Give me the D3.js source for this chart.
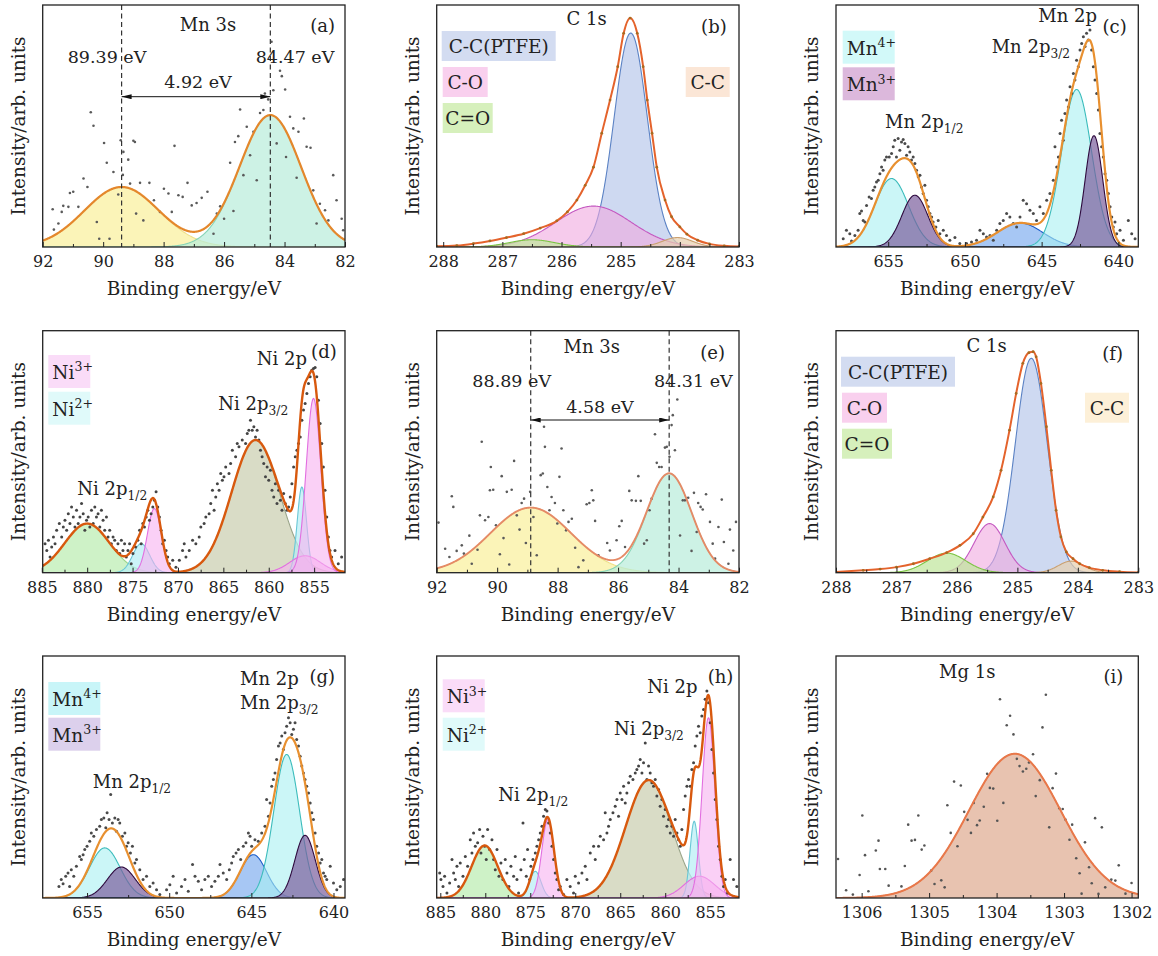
<!DOCTYPE html>
<html lang="en">
<head>
<meta charset="utf-8">
<title>XPS spectra</title>
<script src="https://cdnjs.cloudflare.com/ajax/libs/d3/7.8.5/d3.min.js"></script>
<style>
  body { margin: 0; background: #fff; }
  svg text { font-family: 'DejaVu Serif', 'Liberation Serif', serif; fill: #222; }
</style>
</head>
<body>
<svg id="canvas" width="1158" height="956"></svg>
<script>
// ---------- data ----------
// fitted peaks: [centre (eV), height (% of panel height), FWHM (eV)]
const mn3sPeaksA = [[89.39, 24.8, 2.9], [84.47, 54.5, 2.4]];
const mn3sPeaksE = [[88.89, 26.9, 3.15], [84.31, 41.0, 1.75]];
const c1sPeaksB = [[284.83, 88.4, 0.66], [285.46, 16.9, 1.5], [286.5, 3.0, 0.9], [284.04, 3.9, 0.6]];
const c1sPeaksF = [[284.77, 88.6, 0.62], [285.46, 20.3, 0.6], [286.17, 8.1, 0.75], [284.11, 4.8, 0.5]];
const mn2pPeaksC = [[654.78, 28.3, 2.6], [653.26, 21.4, 2.0], [646.41, 9.9, 3.5], [642.72, 65.1, 2.3], [641.59, 46.0, 1.35]];
const mn2pPeaksG = [[653.92, 20.7, 2.2], [652.91, 12.8, 2.0], [644.88, 17.9, 1.9], [642.85, 59.3, 1.85], [641.73, 25.9, 1.46]];
const ni2pPeaksD = [[880.0, 20.3, 5.8], [861.46, 54.8, 6.2], [874.05, 12.0, 2.2], [872.6, 26.5, 1.8], [856.35, 35.4, 1.2], [856.0, 7.0, 4.0], [855.07, 72.0, 1.9]];
const ni2pPeaksH = [[880.07, 21.7, 3.4], [861.85, 48.7, 6.0], [874.44, 11.0, 1.5], [873.04, 32.4, 1.6], [856.78, 31.7, 1.1], [856.2, 9.0, 4.0], [855.19, 74.5, 1.67]];
const mg1sPeaksI = [[1303.73, 59.6, 1.6]];

// C 1s envelopes (measured points on the fitted sum): [eV, %]
const c1sEnvB = [[288.11,0.3],[287.77,0.6],[287.49,1.4],[287.21,2.5],[286.93,3.9],[286.64,5.5],[286.36,7.8],[286.08,10.8],[285.9,14.5],[285.74,19.4],[285.6,25.5],[285.46,33.0],[285.32,47.0],[285.18,60.7],[285.05,74.5],[284.95,88.3],[284.84,94.6],[284.72,88.3],[284.62,74.5],[284.55,60.7],[284.47,47.0],[284.39,33.0],[284.25,19.4],[284.14,12.5],[284.0,8.3],[283.88,5.3],[283.7,2.8],[283.5,1.3],[283.25,0.5],[283.0,0.2]];
const c1sEnvF = [[288.0,0.3],[287.55,1.0],[287.27,1.5],[287.0,2.3],[286.72,3.7],[286.45,5.8],[286.17,8.3],[285.95,11.3],[285.73,16.1],[285.57,23.0],[285.4,31.3],[285.27,42.3],[285.13,58.9],[285.02,74.1],[284.91,86.5],[284.81,90.9],[284.74,91.3],[284.69,89.2],[284.61,78.2],[284.52,60.3],[284.44,42.3],[284.36,25.8],[284.28,14.8],[284.19,8.6],[284.08,5.8],[283.97,3.7],[283.81,2.1],[283.59,1.0],[283.31,0.4],[283.0,0.1]];

// raw counts: [eV, %]
const mn3sDotsA = [[91.67,15.6],[91.63,7.2],[91.48,9.7],[91.37,14.5],[91.32,17.0],[91.15,16.6],[91.10,22.3],[90.99,22.8],[90.82,16.6],[90.65,28.3],[90.52,24.8],[90.41,55.7],[90.32,50.1],[90.21,10.3],[90.13,3.4],[89.97,43.0],[89.88,34.8],[89.79,3.4],[89.66,31.0],[89.50,21.7],[89.42,44.1],[89.35,29.8],[89.33,39.3],[89.17,36.1],[89.11,26.2],[89.00,43.9],[88.95,43.4],[88.91,13.8],[88.78,26.5],[88.67,11.0],[88.47,26.5],[88.32,19.3],[88.12,14.5],[87.99,24.1],[87.84,22.1],[87.73,14.5],[87.64,41.8],[87.51,21.4],[87.37,20.7],[87.21,26.5],[87.07,17.2],[86.91,18.2],[86.74,20.3],[86.55,22.8],[86.35,5.5],[86.24,13.8],[86.13,16.8],[86.00,11.7],[85.80,34.8],[85.69,14.9],[85.64,43.4],[85.53,45.8],[85.47,56.8],[85.36,29.7],[85.25,49.7],[85.14,37.9],[85.03,47.6],[84.92,27.6],[84.81,55.4],[84.70,56.6],[84.65,63.4],[84.54,61.0],[84.43,84.8],[84.37,64.8],[84.26,42.8],[84.15,72.8],[84.09,70.6],[83.98,65.1],[83.95,37.2],[83.82,53.8],[83.71,49.0],[83.60,28.6],[83.54,47.6],[83.36,53.1],[83.27,41.4],[83.14,41.0],[83.05,23.4],[82.94,9.7],[82.83,17.9],[82.66,15.2],[82.55,11.0],[82.39,29.7],[82.28,19.3],[82.11,11.7],[82.06,6.9]];
const mn3sDotsE = [[91.94,20.7],[91.72,9.9],[91.58,6.5],[91.50,31.6],[91.45,27.2],[91.34,9.0],[91.17,11.3],[91.10,7.9],[90.92,15.3],[90.84,3.7],[90.65,9.5],[90.57,23.7],[90.51,54.1],[90.40,21.7],[90.29,23.0],[90.24,34.1],[90.21,43.7],[90.13,34.3],[90.04,19.6],[89.91,7.6],[89.85,39.9],[89.79,14.3],[89.68,33.4],[89.60,3.4],[89.52,34.3],[89.44,46.2],[89.35,23.7],[89.26,17.8],[89.19,28.8],[89.11,30.6],[89.05,12.3],[88.91,33.4],[88.80,23.0],[88.69,7.2],[88.56,40.3],[88.49,41.0],[88.45,60.3],[88.42,52.0],[88.34,35.4],[88.27,25.8],[88.20,31.3],[88.09,28.8],[88.01,20.3],[87.94,39.6],[87.87,51.3],[87.81,25.8],[87.72,17.5],[87.64,21.0],[87.53,22.3],[87.42,10.3],[87.31,2.3],[87.15,5.1],[87.04,28.3],[86.95,28.8],[86.87,34.1],[86.82,29.9],[86.76,21.4],[86.65,7.2],[86.36,12.3],[86.27,9.2],[86.05,13.4],[85.96,19.2],[85.88,21.4],[85.77,10.6],[85.63,33.8],[85.55,29.9],[85.41,29.7],[85.33,39.9],[85.25,29.7],[85.14,12.0],[85.05,13.4],[84.96,25.8],[84.89,30.6],[84.78,57.2],[84.72,45.4],[84.64,43.7],[84.56,43.7],[84.45,51.7],[84.39,52.0],[84.30,47.9],[84.23,61.0],[84.19,65.1],[84.12,50.6],[84.04,71.6],[83.95,15.4],[83.86,29.9],[83.79,29.9],[83.68,31.0],[83.57,9.0],[83.49,33.0],[83.40,16.8],[83.35,28.8],[83.27,27.2],[83.20,26.1],[83.09,32.4],[82.96,21.0],[82.87,12.0],[82.79,5.8],[82.68,18.9],[82.57,30.2],[82.50,12.7],[82.35,3.7],[82.30,17.8],[82.19,9.2],[82.10,21.0]];
const mn2pDotsC = [[657.93,3.4],[657.72,6.9],[657.50,5.5],[657.39,2.5],[657.17,4.8],[656.96,6.9],[656.85,13.8],[656.74,14.9],[656.63,11.0],[656.52,10.3],[656.41,17.2],[656.24,20.7],[656.09,20.0],[655.98,23.4],[655.87,24.8],[655.76,26.9],[655.65,27.6],[655.54,30.3],[655.43,33.1],[655.33,31.7],[655.22,35.9],[655.11,37.2],[654.93,37.2],[654.78,38.6],[654.67,41.4],[654.57,44.1],[654.46,37.2],[654.35,44.8],[654.24,40.0],[654.13,43.4],[654.02,44.4],[653.91,42.8],[653.80,37.9],[653.70,41.4],[653.59,39.3],[653.48,35.9],[653.37,37.2],[653.26,34.5],[653.15,31.7],[653.04,29.0],[652.93,29.7],[652.83,24.8],[652.72,22.1],[652.61,25.5],[652.50,19.3],[652.39,16.6],[652.28,13.8],[652.17,12.4],[652.07,10.3],[651.89,8.3],[651.74,11.0],[651.63,5.5],[651.41,6.9],[651.20,4.8],[650.98,2.8],[650.65,3.9],[650.33,1.4],[649.89,1.4],[649.57,2.1],[649.24,2.8],[649.02,6.9],[648.80,5.5],[648.59,4.1],[648.37,4.8],[648.15,2.8],[647.93,6.9],[647.72,9.7],[647.50,11.0],[647.28,13.8],[647.07,12.4],[646.85,9.7],[646.63,8.3],[646.41,12.4],[646.20,19.3],[645.98,17.9],[645.76,15.2],[645.54,13.8],[645.33,11.0],[645.11,16.6],[644.89,13.8],[644.67,19.3],[644.46,22.1],[644.24,27.6],[644.13,41.4],[644.02,33.1],[643.91,37.2],[643.80,46.9],[643.70,52.4],[643.59,44.1],[643.48,55.2],[643.37,60.7],[643.26,57.9],[643.15,66.2],[643.04,63.4],[642.93,71.7],[642.83,69.0],[642.72,77.2],[642.61,74.5],[642.50,81.4],[642.39,84.1],[642.28,86.9],[642.17,82.8],[642.07,88.3],[641.96,85.5],[641.85,89.7],[641.74,81.4],[641.63,74.5],[641.52,69.0],[641.41,63.4],[641.30,56.6],[641.20,46.9],[641.09,41.4],[640.98,37.2],[640.87,30.3],[640.76,27.6],[640.65,22.1],[640.54,16.6],[640.43,12.4],[640.33,8.3],[640.22,10.3],[640.11,5.5],[639.89,6.9],[639.67,2.8],[639.35,11.0],[639.13,5.5],[638.91,3.4]];
const mn2pDotsG = [[656.71,4.8],[656.57,7.6],[656.46,5.9],[656.30,9.0],[656.16,10.3],[656.06,4.8],[655.96,11.7],[655.81,9.0],[655.65,13.1],[655.45,17.2],[655.35,15.9],[655.24,17.9],[655.14,20.0],[655.00,21.4],[654.84,23.4],[654.74,26.9],[654.59,25.5],[654.43,28.3],[654.23,29.7],[654.13,32.4],[653.98,33.1],[653.86,29.0],[653.78,35.2],[653.66,32.4],[653.56,42.8],[653.46,31.0],[653.31,33.1],[653.21,27.6],[653.11,32.4],[653.01,31.0],[652.85,25.5],[652.70,26.9],[652.60,21.4],[652.50,22.8],[652.36,18.6],[652.24,21.4],[652.09,14.5],[651.99,15.9],[651.79,11.7],[651.59,7.6],[651.38,9.0],[651.18,4.8],[650.98,6.2],[650.77,3.4],[650.57,1.4],[650.16,3.4],[649.96,5.5],[649.76,9.0],[649.55,2.1],[649.25,4.8],[649.04,7.6],[648.84,2.8],[648.58,13.8],[648.43,9.0],[648.23,6.9],[648.03,3.4],[647.83,7.6],[647.62,9.0],[647.42,4.8],[647.22,6.9],[647.01,9.0],[646.91,13.8],[646.71,10.3],[646.50,7.6],[646.34,11.7],[646.20,14.5],[646.10,17.2],[645.93,18.6],[645.79,20.0],[645.65,15.9],[645.49,21.4],[645.33,22.8],[645.18,26.9],[645.08,25.5],[644.98,21.4],[644.78,24.1],[644.58,23.4],[644.37,26.9],[644.17,29.7],[644.07,40.7],[643.96,33.8],[643.86,39.3],[643.76,46.2],[643.66,49.0],[643.56,51.7],[643.46,57.2],[643.35,62.8],[643.25,64.1],[643.15,66.9],[643.05,61.4],[642.95,68.3],[642.85,71.0],[642.74,74.5],[642.64,72.4],[642.54,67.6],[642.44,69.7],[642.34,72.4],[642.24,65.5],[642.13,62.8],[642.03,58.6],[641.93,54.5],[641.83,51.7],[641.73,49.0],[641.63,46.2],[641.52,43.4],[641.42,39.3],[641.32,35.2],[641.22,32.4],[641.12,26.9],[641.02,21.4],[640.91,18.6],[640.81,14.5],[640.71,15.9],[640.61,10.3],[640.51,9.0],[640.41,7.6],[640.20,13.1],[640.00,6.2],[639.80,3.4],[639.59,4.8],[639.39,7.6]];
const ni2pDotsD = [[884.64,12.0],[884.45,9.2],[884.27,13.4],[884.09,6.5],[883.91,10.6],[883.72,14.8],[883.54,12.0],[883.36,17.5],[883.07,20.3],[882.81,14.8],[882.63,18.9],[882.45,21.7],[882.26,17.5],[882.08,24.4],[881.90,20.3],[881.72,27.2],[881.53,23.0],[881.35,18.9],[881.17,25.8],[880.99,20.3],[880.80,23.0],[880.62,28.6],[880.44,24.4],[880.26,17.5],[880.07,21.7],[879.89,23.0],[879.71,18.9],[879.53,25.8],[879.34,20.3],[879.16,27.2],[878.98,23.0],[878.80,24.4],[878.61,18.9],[878.43,25.8],[878.25,21.7],[878.07,17.5],[877.88,23.0],[877.70,14.8],[877.52,17.5],[877.34,12.0],[877.15,14.8],[876.97,13.4],[876.79,9.2],[876.61,12.0],[876.42,7.9],[876.24,13.4],[876.06,9.2],[875.88,12.0],[875.69,6.5],[875.51,9.2],[875.33,12.0],[875.15,3.7],[874.96,7.9],[874.67,10.6],[874.42,13.4],[874.23,17.5],[874.05,12.0],[873.87,20.3],[873.69,18.9],[873.50,23.0],[873.32,25.8],[873.14,21.7],[872.96,24.4],[872.77,27.2],[872.59,29.9],[872.41,33.4],[872.23,27.2],[872.04,23.0],[871.86,17.5],[871.68,12.0],[871.50,13.4],[871.31,9.2],[871.13,6.5],[870.95,3.7],[870.58,5.1],[870.22,2.3],[869.85,5.1],[869.49,9.2],[869.31,12.0],[869.12,6.5],[868.76,9.2],[868.39,13.4],[868.03,12.0],[867.66,14.8],[867.48,18.9],[867.12,20.3],[866.93,23.0],[866.57,24.4],[866.39,28.6],[866.20,34.1],[866.02,25.8],[865.84,31.3],[865.66,36.8],[865.47,34.1],[865.29,41.0],[865.11,38.2],[864.93,39.6],[864.74,43.7],[864.38,41.0],[864.20,45.1],[864.01,50.6],[863.65,47.9],[863.47,53.4],[863.28,52.0],[862.92,54.8],[862.55,53.4],[862.37,57.5],[862.19,58.9],[862.01,63.0],[861.82,58.9],[861.64,60.3],[861.46,56.1],[861.28,58.9],[861.09,54.8],[860.91,50.6],[860.73,47.9],[860.55,45.1],[860.36,39.6],[860.18,43.7],[860.00,38.2],[859.82,42.3],[859.64,34.1],[859.45,31.3],[859.27,36.8],[859.09,28.6],[858.91,34.1],[858.72,29.9],[858.54,25.8],[858.36,32.7],[858.18,28.6],[857.99,25.8],[857.81,27.2],[857.63,31.3],[857.45,36.8],[857.26,43.7],[857.08,47.9],[856.90,50.6],[856.72,53.4],[856.53,56.1],[856.35,63.0],[856.17,67.2],[855.99,69.9],[855.80,74.1],[855.62,78.2],[855.44,81.0],[855.26,83.7],[855.07,84.4],[854.89,84.8],[854.71,81.0],[854.53,71.3],[854.34,61.7],[854.16,53.4],[853.98,43.7],[853.80,34.1],[853.61,23.0],[853.43,14.8],[853.25,9.2],[853.07,6.5],[852.70,9.2],[852.34,3.7],[851.97,6.5]];
const ni2pDotsH = [[885.07,10.3],[884.93,7.6],[884.70,4.8],[884.52,9.0],[884.26,2.1],[883.96,6.2],[883.70,15.9],[883.52,10.3],[883.33,7.6],[883.15,13.1],[882.96,4.8],[882.78,14.5],[882.48,9.0],[882.22,17.2],[881.96,13.1],[881.67,24.1],[881.48,18.6],[881.30,26.9],[881.11,21.4],[880.85,22.8],[880.63,28.3],[880.48,18.6],[880.26,25.5],[880.07,21.4],[879.89,15.9],[879.74,28.3],[879.52,20.0],[879.26,24.1],[879.07,15.9],[878.89,11.7],[878.70,20.0],[878.48,9.0],[878.26,14.5],[878.04,7.6],[877.78,15.9],[877.59,10.3],[877.37,4.8],[877.15,13.1],[876.85,9.0],[876.67,17.2],[876.48,7.6],[876.30,2.1],[876.04,11.7],[875.81,31.0],[875.67,15.9],[875.44,9.0],[875.30,20.0],[875.07,7.6],[874.93,13.1],[874.70,15.9],[874.44,18.6],[874.26,21.4],[874.07,24.1],[873.89,26.9],[873.70,29.7],[873.52,33.8],[873.33,36.6],[873.15,35.9],[872.96,31.0],[872.78,26.9],[872.59,21.4],[872.41,15.9],[872.22,10.3],[872.04,7.6],[871.85,3.4],[871.67,4.8],[871.30,1.4],[870.93,7.6],[870.56,4.8],[870.19,2.1],[870.00,9.0],[869.63,6.2],[869.26,10.3],[868.89,13.1],[868.70,7.6],[868.33,18.6],[867.96,21.4],[867.78,15.9],[867.41,21.4],[867.22,25.5],[866.85,24.1],[866.67,35.2],[866.48,26.9],[866.30,29.7],[866.11,32.4],[865.81,35.2],[865.56,37.9],[865.37,40.7],[865.19,33.8],[865.00,43.4],[864.81,40.7],[864.63,46.2],[864.44,39.3],[864.26,43.4],[864.07,47.6],[863.89,50.3],[863.59,49.0],[863.33,51.7],[863.15,53.1],[862.96,54.5],[862.78,57.2],[862.59,51.7],[862.41,55.9],[862.22,64.1],[862.04,49.0],[861.85,54.5],[861.67,51.7],[861.48,47.6],[861.30,46.2],[861.11,49.0],[860.93,42.1],[860.74,44.8],[860.56,37.9],[860.37,40.7],[860.19,33.8],[860.00,36.6],[859.81,29.7],[859.63,32.4],[859.44,26.9],[859.26,29.7],[859.07,25.5],[858.89,32.4],[858.70,26.9],[858.52,24.1],[858.33,21.4],[858.15,28.3],[857.96,36.6],[857.78,42.1],[857.59,46.2],[857.41,49.0],[857.22,46.2],[857.04,53.1],[856.85,55.9],[856.67,62.8],[856.48,66.9],[856.30,71.0],[856.11,68.3],[855.93,75.2],[855.74,77.9],[855.56,82.1],[855.37,85.5],[855.19,80.7],[855.00,72.4],[854.81,61.4],[854.63,51.7],[854.44,40.7],[854.26,32.4],[854.07,21.4],[853.89,15.9],[853.70,9.0],[853.52,4.8],[853.33,7.6],[853.07,2.1],[852.78,15.9],[852.41,7.6],[852.04,4.8]];
const mg1sDotsI = [[1306.35,16.1],[1306.23,3.2],[1306.13,1.4],[1306.03,9.5],[1305.99,34.1],[1305.95,17.7],[1305.90,2.8],[1305.79,19.6],[1305.75,23.7],[1305.73,12.0],[1305.65,12.0],[1305.60,5.1],[1305.41,4.8],[1305.36,13.2],[1305.31,30.3],[1305.26,23.7],[1305.21,24.0],[1305.16,34.1],[1305.11,20.0],[1305.07,21.7],[1304.97,11.3],[1304.92,5.8],[1304.82,7.3],[1304.77,4.4],[1304.73,38.3],[1304.68,26.9],[1304.63,48.1],[1304.58,21.4],[1304.53,46.5],[1304.48,35.6],[1304.43,32.3],[1304.38,26.9],[1304.34,39.3],[1304.29,30.1],[1304.25,32.0],[1304.19,37.7],[1304.14,51.3],[1304.10,45.5],[1304.05,45.2],[1303.99,31.9],[1303.95,82.1],[1303.90,39.3],[1303.85,71.4],[1303.80,75.3],[1303.75,67.6],[1303.70,57.5],[1303.66,54.5],[1303.61,52.3],[1303.56,53.4],[1303.52,56.0],[1303.46,59.4],[1303.42,42.1],[1303.36,48.7],[1303.32,70.5],[1303.27,84.0],[1303.22,29.2],[1303.17,45.4],[1303.12,51.4],[1303.07,37.1],[1303.02,36.8],[1302.98,32.4],[1302.92,24.1],[1302.88,30.3],[1302.82,16.4],[1302.77,10.2],[1302.74,1.8],[1302.69,23.0],[1302.63,12.7],[1302.59,6.1],[1302.54,33.0],[1302.49,1.7],[1302.44,29.2],[1302.39,4.4],[1302.30,7.6],[1302.24,7.2],[1302.19,13.5],[1302.09,1.8],[1302.00,6.2]];

// axis ranges and tick labels
const domainMn3s = [92, 82], ticksMn3s = [92, 90, 88, 86, 84, 82];
const domainC1sB = [288.11, 283], domainC1sF = [288, 283], ticksC1s = [288, 287, 286, 285, 284, 283];
const domainMn2pC = [658.4, 638.7], domainMn2pG = [657.7, 639.3], ticksMn2p = [655, 650, 645, 640];
const domainNi2pD = [884.9, 851.6], domainNi2pH = [885.4, 851.8], ticksNi2p = [885, 880, 875, 870, 865, 860, 855];
const domainMg1s = [1306.38, 1301.9], ticksMg1s = [1306, 1305, 1304, 1303, 1302];

// labels
const c1sLegend = ["C-C(PTFE)", "C-O", "C=O", "C-C"];
const mnLegend = [["Mn", "4+"], ["Mn", "3+"]];
const niLegend = [["Ni", "3+"], ["Ni", "2+"]];
const xTitle = "Binding energy/eV", yTitle = "Intensity/arb. units";

// ---------- styles ----------
const stMn3s = [{ fill: "#faf0a0", op: 0.75, stroke: "#eee08a" }, { fill: "#b8ecda", op: 0.7, stroke: "#86d4b6" }];
const stC1s = [{ fill: "#c2cfee", op: 0.8, stroke: "#5b82c4" }, { fill: "#f0a8e0", op: 0.6, stroke: "#c458c0" },
               { fill: "#bfe69a", op: 0.7, stroke: "#7cc444" }, { fill: "#e7cfae", op: 0.7, stroke: "#caa070" }];
const cyan = { fill: "#a8f0f2", op: 0.6, stroke: "#3cbcbc" };
const purple = { fill: "#7b5e9c", op: 0.7, stroke: "#2e0a3e" };
const blueSat = { fill: "#3c82e6", op: 0.45, stroke: "#1c5cc8" };
const stMn2p = [cyan, purple, blueSat, cyan, purple];
const niGreen = { fill: "#bdeeb4", op: 0.75, stroke: "#9bd58c" };
const niOlive = { fill: "#cfd3b8", op: 0.8, stroke: "#9aa58a" };
const niCyan = { fill: "#b6eef5", op: 0.7, stroke: "#69c7d6" };
const niPink = { fill: "#f6b0f0", op: 0.6, stroke: "#e26ee0" };
const stNi2p = [niGreen, niOlive, niCyan, niPink, niCyan, niPink, niPink];
const stMg1s = [{ fill: "#e2b49c", op: 0.8, stroke: "#e8784a" }];

// ---------- layout ----------
const colX = [42.7, 436.7, 836], rowY = [5, 330.7, 656];
const plotW = 302.3, plotH = 242;

const svg = d3.select("#canvas");
const defs = svg.append("defs");
defs.append("marker").attr("id", "arrow")
  .attr("viewBox", "0 0 10 10").attr("refX", 10).attr("refY", 5)
  .attr("markerWidth", 10).attr("markerHeight", 5).attr("markerUnits", "userSpaceOnUse")
  .attr("preserveAspectRatio", "none").attr("orient", "auto-start-reverse")
  .append("path").attr("d", "M0,0 L10,5 L0,10 z").attr("fill", "#111");

const gauss = (pk, e) => pk[1] * Math.exp(-4 * Math.LN2 * ((e - pk[0]) / pk[2]) ** 2);

// text with sub/superscripts: parts = [[text, ""|"sup"|"sub"]]
function rich(g, x, y, parts, size, anchor) {
  const t = g.append("text").attr("x", x).attr("y", y).attr("font-size", size)
    .attr("text-anchor", anchor || "start");
  let shift = 0;
  parts.forEach(([s, k]) => {
    const target = k === "sup" ? -0.42 * size : k === "sub" ? 0.28 * size : 0;
    const ts = t.append("tspan").text(s).attr("dy", target - shift);
    if (k) ts.attr("font-size", size * 0.68);
    shift = target;
  });
  return t;
}

function drawPanel(p) {
  const g = svg.append("g").attr("transform", `translate(${colX[p.col]},${rowY[p.row]})`);
  const x = d3.scaleLinear().domain(p.domain).range([0, plotW]);
  const y = d3.scaleLinear().domain([0, 100]).range([plotH, 0]);

  defs.append("clipPath").attr("id", "clip-" + p.id)
    .append("rect").attr("width", plotW).attr("height", plotH);
  const body = g.append("g").attr("clip-path", `url(#clip-${p.id})`);

  // evaluation grid for the fitted curves
  const n = 700;
  const grid = d3.range(n + 1).map(i => p.domain[0] + (p.domain[1] - p.domain[0]) * i / n);
  const area = d3.area().x(d => x(d[0])).y0(y(0)).y1(d => y(d[1]));
  const line = d3.line().x(d => x(d[0])).y(d => y(d[1]));

  p.peaks.forEach((pk, i) => {
    const pts = grid.map(e => [e, gauss(pk, e)]);
    const st = p.styles[i];
    body.append("path").datum(pts).attr("d", area)
      .attr("fill", st.fill).attr("fill-opacity", st.op);
    body.append("path").datum(pts).attr("d", line)
      .attr("fill", "none").attr("stroke", st.stroke).attr("stroke-width", 1.1);
  });

  if (p.dots) {
    body.selectAll("circle.dot").data(p.dots).join("circle").attr("class", "dot")
      .attr("cx", d => x(d[0])).attr("cy", d => y(d[1]))
      .attr("r", p.dotR).attr("fill", p.dotColor);
  }

  // envelope
  let env;
  if (p.env) env = p.env;
  else env = grid.map(e => [e, d3.sum(p.peaks, pk => gauss(pk, e))]);
  body.append("path").datum(env)
    .attr("d", p.env ? line.curve(d3.curveMonotoneX) : line)
    .attr("fill", "none").attr("stroke", p.envColor).attr("stroke-width", p.envWidth);
  if (p.env) {
    body.selectAll("circle.edot").data(p.env).join("circle").attr("class", "edot")
      .attr("cx", d => x(d[0])).attr("cy", d => y(d[1])).attr("r", 1.4).attr("fill", "#a86a20");
  }

  // axes (ticks inside)
  const ax = g.append("g").attr("transform", `translate(0,${plotH})`).style("color", "#222")
    .call(d3.axisBottom(x).tickValues(p.ticks).tickSizeInner(-5).tickSizeOuter(0).tickPadding(9)
      .tickFormat(d3.format("d")));
  ax.select(".domain").remove();
  ax.selectAll("text").attr("font-size", 16).style("font-family", "'DejaVu Serif', serif");
  const minor = [];
  for (let i = 0; i < p.ticks.length - 1; i++) minor.push((p.ticks[i] + p.ticks[i + 1]) / 2);
  const mx = g.append("g").attr("transform", `translate(0,${plotH})`).style("color", "#222")
    .call(d3.axisBottom(x).tickValues(minor).tickSizeInner(-3).tickSizeOuter(0).tickFormat(""));
  mx.select(".domain").remove();

  g.append("text").attr("x", plotW / 2).attr("y", plotH + 48).attr("text-anchor", "middle")
    .attr("font-size", 18.5).text(xTitle);
  g.append("text").attr("transform", `translate(-18,${plotH / 2}) rotate(-90)`)
    .attr("text-anchor", "middle").attr("font-size", 18.5).text(yTitle);

  p.annotate(g, x, y);

  g.append("rect").attr("width", plotW).attr("height", plotH)
    .attr("fill", "none").attr("stroke", "#222").attr("stroke-width", 1.3);
}

// ---------- annotations ----------
function mn3sMarks(peaks, labels, pos) {
  return (g, x) => {
    peaks.forEach(pk => {
      g.append("line").attr("x1", x(pk[0])).attr("x2", x(pk[0])).attr("y1", 0).attr("y2", plotH)
        .attr("stroke", "#333").attr("stroke-width", 1.2).attr("stroke-dasharray", "5,3.5");
    });
    g.append("line").attr("x1", x(peaks[0][0])).attr("x2", x(peaks[1][0]))
      .attr("y1", pos.arrowY).attr("y2", pos.arrowY)
      .attr("stroke", "#111").attr("stroke-width", 1)
      .attr("marker-start", "url(#arrow)").attr("marker-end", "url(#arrow)");
    g.append("text").attr("x", pos.leftX).attr("y", pos.valY).attr("text-anchor", "middle")
      .attr("font-size", 17.5).text(labels[0]);
    g.append("text").attr("x", pos.rightX).attr("y", pos.valY).attr("text-anchor", "middle")
      .attr("font-size", 17.5).text(labels[1]);
    g.append("text").attr("x", pos.gapX).attr("y", pos.gapY).attr("text-anchor", "middle")
      .attr("font-size", 17.5).text(labels[2]);
    g.append("text").attr("x", pos.titleX).attr("y", pos.titleY).attr("text-anchor", "middle")
      .attr("font-size", 18).text("Mn 3s");
    g.append("text").attr("x", pos.tagX).attr("y", pos.tagY).attr("text-anchor", "end")
      .attr("font-size", 18).text(pos.tag);
  };
}

function box(g, x0, y0, w, h, fill) {
  g.append("rect").attr("x", x0).attr("y", y0).attr("width", w).attr("height", h).attr("fill", fill);
}

function c1sMarks(tag, pos) {
  return g => {
    const fills = ["#d3dcf1", "#f9d0ee", "#d6f0bc", pos.ccFill];
    const boxes = [[5, 26, 114, 30], [6, 62, 45, 30], [6, 98, 50, 30], [249, 62, 44, 30]];
    boxes.forEach((b, i) => {
      box(g, b[0], b[1], b[2], b[3], fills[i]);
      g.append("text").attr("x", b[0] + b[2] / 2).attr("y", b[1] + b[3] - 8)
        .attr("text-anchor", "middle").attr("font-size", 18.5).text(c1sLegend[i]);
    });
    g.append("text").attr("x", pos.titleX).attr("y", pos.titleY).attr("text-anchor", "middle")
      .attr("font-size", 18).text("C 1s");
    g.append("text").attr("x", pos.tagX).attr("y", pos.tagY).attr("text-anchor", "end")
      .attr("font-size", 18).text(tag);
  };
}

function legend2(g, items, fills, x0, ys, w, h) {
  items.forEach((it, i) => {
    box(g, x0, ys[i], w, h, fills[i]);
    rich(g, x0 + 4, ys[i] + h - 9, [[it[0], ""], [it[1], "sup"]], 18.5);
  });
}

function mn2pMarks(tag, pos) {
  return g => {
    legend2(g, mnLegend, pos.fills, pos.legX, pos.legY, 52, 33);
    rich(g, pos.pX, pos.pY, [["Mn 2p", ""]], 18);
    rich(g, pos.p32X, pos.p32Y, [["Mn 2p", ""], ["3/2", "sub"]], 18);
    rich(g, pos.p12X, pos.p12Y, [["Mn 2p", ""], ["1/2", "sub"]], 18);
    g.append("text").attr("x", pos.tagX).attr("y", pos.tagY).attr("text-anchor", "end")
      .attr("font-size", 18).text(tag);
  };
}

function ni2pMarks(tag, pos) {
  return g => {
    legend2(g, niLegend, ["#fadcf8", "#e0fafa"], pos.legX, pos.legY, 42, 33);
    rich(g, pos.pX, pos.pY, [["Ni 2p", ""]], 18);
    rich(g, pos.p32X, pos.p32Y, [["Ni 2p", ""], ["3/2", "sub"]], 18);
    rich(g, pos.p12X, pos.p12Y, [["Ni 2p", ""], ["1/2", "sub"]], 18);
    g.append("text").attr("x", pos.tagX).attr("y", pos.tagY).attr("text-anchor", "end")
      .attr("font-size", 18).text(tag);
  };
}

const panels = [
  { id: "a", col: 0, row: 0, domain: domainMn3s, ticks: ticksMn3s, peaks: mn3sPeaksA, styles: stMn3s,
    dots: mn3sDotsA, dotR: 1.3, dotColor: "#5a5a5a", envColor: "#e4872c", envWidth: 2.2,
    annotate: mn3sMarks(mn3sPeaksA, ["89.39 eV", "84.47 eV", "4.92 eV"],
      { arrowY: 91.7, leftX: 64.3, rightX: 252.3, valY: 57.7, gapX: 155.3, gapY: 83,
        titleX: 165.3, titleY: 25.5, tagX: 292.3, tagY: 27, tag: "(a)" }) },
  { id: "b", col: 1, row: 0, domain: domainC1sB, ticks: ticksC1s, peaks: c1sPeaksB, styles: stC1s,
    env: c1sEnvB, envColor: "#e4632c", envWidth: 2,
    annotate: c1sMarks("(b)", { titleX: 150, titleY: 20, tagX: 290, tagY: 28, ccFill: "#fbe6d6" }) },
  { id: "c", col: 2, row: 0, domain: domainMn2pC, ticks: ticksMn2p, peaks: mn2pPeaksC, styles: stMn2p,
    dots: mn2pDotsC, dotR: 1.5, dotColor: "#4a4a4a", envColor: "#e89030", envWidth: 2.2,
    annotate: mn2pMarks("(c)", { fills: ["#d2f9f9", "#dcb8dc"], legX: 6.7, legY: [25.7, 62.3],
      pX: 202.3, pY: 16.7, p32X: 155.7, p32Y: 48.3, p12X: 49, p12Y: 123.3, tagX: 290.7, tagY: 28 }) },
  { id: "d", col: 0, row: 1, domain: domainNi2pD, ticks: ticksNi2p, peaks: ni2pPeaksD, styles: stNi2p,
    dots: ni2pDotsD, dotR: 1.5, dotColor: "#444", envColor: "#d8590e", envWidth: 2.4,
    annotate: ni2pMarks("(d)", { legX: 5.6, legY: [24.3, 61],
      pX: 214, pY: 34.3, p32X: 175.6, p32Y: 79.3, p12X: 34.6, p12Y: 164.3, tagX: 294, tagY: 27.6 }) },
  { id: "e", col: 1, row: 1, domain: domainMn3s, ticks: ticksMn3s, peaks: mn3sPeaksE, styles: stMn3s,
    dots: mn3sDotsE, dotR: 1.3, dotColor: "#5a5a5a", envColor: "#e58a66", envWidth: 1.9,
    annotate: mn3sMarks(mn3sPeaksE, ["88.89 eV", "84.31 eV", "4.58 eV"],
      { arrowY: 89.3, leftX: 75, rightX: 256.6, valY: 56, gapX: 163.3, gapY: 82,
        titleX: 155, titleY: 22, tagX: 288.3, tagY: 28.3, tag: "(e)" }) },
  { id: "f", col: 2, row: 1, domain: domainC1sF, ticks: ticksC1s, peaks: c1sPeaksF, styles: stC1s,
    env: c1sEnvF, envColor: "#e4632c", envWidth: 2,
    annotate: c1sMarks("(f)", { titleX: 150.7, titleY: 21, tagX: 287, tagY: 29.3, ccFill: "#fdf0d8" }) },
  { id: "g", col: 0, row: 2, domain: domainMn2pG, ticks: ticksMn2p, peaks: mn2pPeaksG, styles: stMn2p,
    dots: mn2pDotsG, dotR: 1.5, dotColor: "#4a4a4a", envColor: "#e89030", envWidth: 2.2,
    annotate: mn2pMarks("(g)", { fills: ["#c8f5f8", "#dcd0ec"], legX: 5.6, legY: [26, 61.7],
      pX: 197.3, pY: 29.3, p32X: 197.3, p32Y: 53.3, p12X: 50, p12Y: 131.7, tagX: 292.3, tagY: 26.7 }) },
  { id: "h", col: 1, row: 2, domain: domainNi2pH, ticks: ticksNi2p, peaks: ni2pPeaksH, styles: stNi2p,
    dots: ni2pDotsH, dotR: 1.5, dotColor: "#444", envColor: "#d8590e", envWidth: 2.4,
    annotate: ni2pMarks("(h)", { legX: 6, legY: [23.3, 61.7],
      pX: 210.6, pY: 36.7, p32X: 177.3, p32Y: 79.3, p12X: 61.6, p12Y: 145, tagX: 296.6, tagY: 26.7 }) },
  { id: "i", col: 2, row: 2, domain: domainMg1s, ticks: ticksMg1s, peaks: mg1sPeaksI, styles: stMg1s,
    dots: mg1sDotsI, dotR: 1.3, dotColor: "#555", envColor: "#e8784a", envWidth: 2,
    annotate: g => {
      g.append("text").attr("x", 131.3).attr("y", 21.7).attr("text-anchor", "middle")
        .attr("font-size", 18).text("Mg 1s");
      g.append("text").attr("x", 287.3).attr("y", 26.7).attr("text-anchor", "end")
        .attr("font-size", 18).text("(i)");
    } }
];

panels.forEach(drawPanel);
</script>
</body>
</html>
